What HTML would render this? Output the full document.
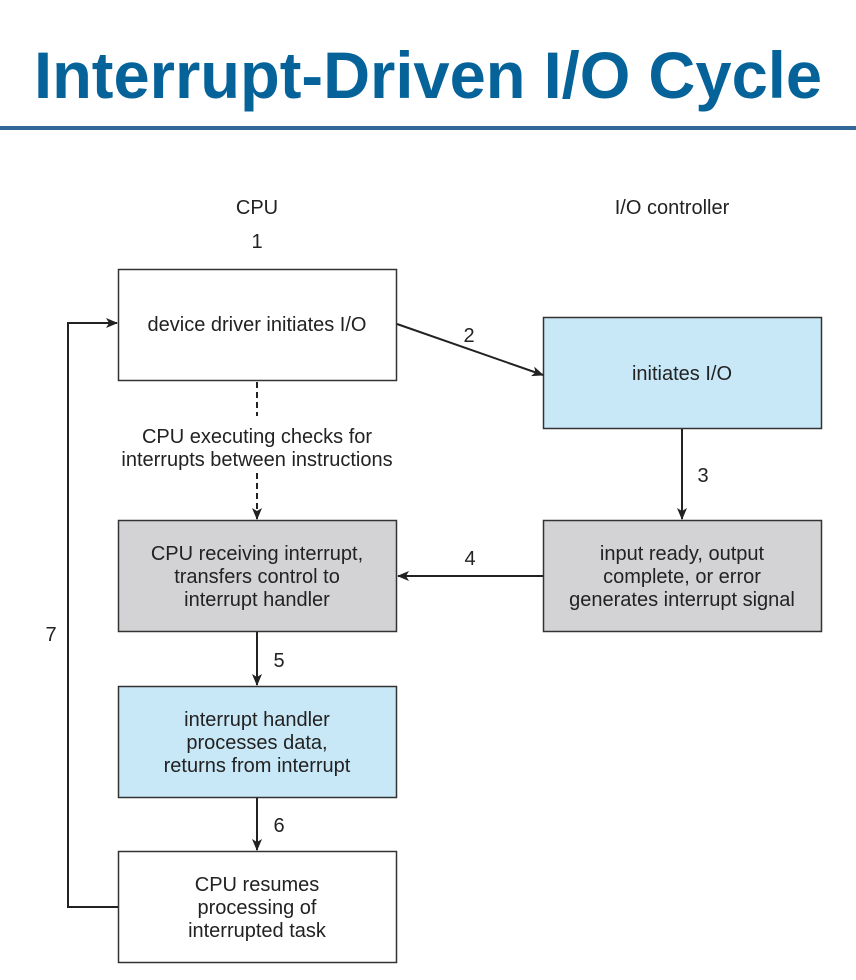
<!DOCTYPE html>
<html><head><meta charset="utf-8"><style>
body{margin:0;background:#fff;width:856px;height:980px;overflow:hidden}
svg{display:block}
</style></head><body>
<svg width="856" height="980" viewBox="0 0 856 980" xmlns="http://www.w3.org/2000/svg" font-family="Liberation Sans, sans-serif">
<defs><marker id="a" markerWidth="12" markerHeight="10" refX="11" refY="5" orient="auto" markerUnits="userSpaceOnUse"><path d="M0,0 L12,5 L0,10 L3,5 z" fill="#222"/></marker></defs>
<text x="428" y="98" text-anchor="middle" font-size="66" font-weight="bold" fill="#06639a" textLength="788" lengthAdjust="spacingAndGlyphs">Interrupt-Driven I/O Cycle</text>
<rect x="0" y="126" width="856" height="4" fill="#336699"/>
<g font-size="20" fill="#222" text-anchor="middle">
<text x="257" y="214">CPU</text>
<text x="672" y="214">I/O controller</text>
<text x="257" y="248">1</text>
<rect x="118.5" y="269.5" width="278" height="111" fill="#fff" stroke="#333" stroke-width="1.5"/>
<text x="257" y="331">device driver initiates I/O</text>
<rect x="543.5" y="317.5" width="278" height="111" fill="#c9e8f7" stroke="#333" stroke-width="1.5"/>
<text x="682" y="380">initiates I/O</text>
<rect x="118.5" y="520.5" width="278" height="111" fill="#d3d3d5" stroke="#333" stroke-width="1.5"/>
<text x="257" y="560">CPU receiving interrupt,</text><text x="257" y="583">transfers control to</text><text x="257" y="606">interrupt handler</text>
<rect x="543.5" y="520.5" width="278" height="111" fill="#d3d3d5" stroke="#333" stroke-width="1.5"/>
<text x="682" y="560">input ready, output</text><text x="682" y="583">complete, or error</text><text x="682" y="606">generates interrupt signal</text>
<rect x="118.5" y="686.5" width="278" height="111" fill="#c9e8f7" stroke="#333" stroke-width="1.5"/>
<text x="257" y="726">interrupt handler</text><text x="257" y="749">processes data,</text><text x="257" y="772">returns from interrupt</text>
<rect x="118.5" y="851.5" width="278" height="111" fill="#fff" stroke="#333" stroke-width="1.5"/>
<text x="257" y="891">CPU resumes</text><text x="257" y="914">processing of</text><text x="257" y="937">interrupted task</text>
<text x="257" y="443">CPU executing checks for</text><text x="257" y="466">interrupts between instructions</text>
<text x="469" y="342">2</text><text x="703" y="482">3</text><text x="470" y="565">4</text><text x="279" y="667">5</text><text x="279" y="832">6</text><text x="51" y="641">7</text>
</g>
<g stroke="#222" stroke-width="2" fill="none">
<line x1="257" y1="382" x2="257" y2="416" stroke-dasharray="6,4"/>
<line x1="257" y1="473" x2="257" y2="519" stroke-dasharray="6,4" marker-end="url(#a)"/>
<line x1="397" y1="324" x2="543" y2="375" marker-end="url(#a)"/>
<line x1="682" y1="429" x2="682" y2="519" marker-end="url(#a)"/>
<line x1="543" y1="576" x2="398" y2="576" marker-end="url(#a)"/>
<line x1="257" y1="632" x2="257" y2="685" marker-end="url(#a)"/>
<line x1="257" y1="798" x2="257" y2="850" marker-end="url(#a)"/>
<polyline points="118,907 68,907 68,323 117,323" marker-end="url(#a)"/>
</g>
</svg>
</body></html>
